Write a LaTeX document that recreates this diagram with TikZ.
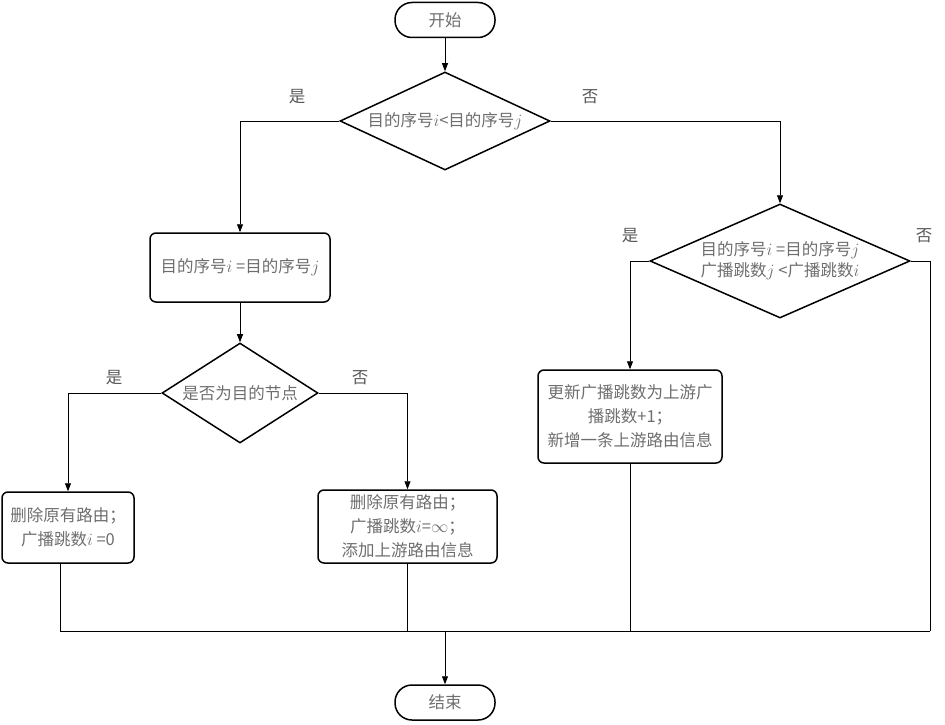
\documentclass[tikz,border=0pt]{standalone}
\usepackage{fontspec}
\setmainfont{Noto Sans CJK SC}
\usetikzlibrary{arrows.meta,shapes.geometric,calc}
\definecolor{txtgray}{RGB}{110,110,110}

\begin{document}
\begin{tikzpicture}[
    x=1pt, y=-1pt,
    font=\fontsize{16.5}{24}\selectfont,
    term/.style={rectangle, draw, line width=1.5pt, rounded corners=17pt, minimum width=100pt, minimum height=35pt, text=txtgray},
    dec/.style={diamond, draw, line width=1.5pt, inner sep=0pt, align=center, text=txtgray},
    box/.style={rectangle, draw, line width=1.5pt, rounded corners=6pt, align=center, text=txtgray},
    arr/.style={-{Triangle[length=8pt,width=6pt]}, line width=0.9pt},
    ln/.style={line width=0.9pt},
    lbl/.style={text=txtgray!80!black}
]
    \useasboundingbox (0,0) rectangle (945,725);

    \node[term] (start) at (445,20) {开始};
    \node[dec, aspect=2.14, minimum width=210pt, minimum height=98pt] (d1) at (445,121) {目的序号$i$<目的序号$j$};
    \node[box, minimum width=180pt, minimum height=69pt] (b1) at (240,267.5) {目的序号$i$ =目的序号$j$};
    \node[dec, aspect=1.56, minimum width=156pt, minimum height=100pt] (d2) at (240,393) {是否为目的节点};
    \node[box, minimum width=132pt, minimum height=71pt] (b2) at (68,527.5) {删除原有路由；\\ 广播跳数$i$ =0};
    \node[box, minimum width=179pt, minimum height=73pt] (b3) at (407.5,526.5) {删除原有路由；\\广播跳数$i$=$\infty$；\\添加上游路由信息};
    \node[dec, aspect=2.3, minimum width=260pt, minimum height=114pt] (d3) at (780,261) {目的序号$i$ =目的序号$j$\\[-3pt]广播跳数$j$ <广播跳数$i$};
    \node[box, minimum width=184pt, minimum height=93pt] (b4) at (630,416.5) {更新广播跳数为上游广\\播跳数+1；\\新增一条上游路由信息};
    \node[term] (end) at (445,702.5) {结束};

    % labels
    \node[lbl] (y1) at (297,97) {是};
    \node[lbl] (n1) at (590,97) {否};
    \node[lbl] (y2) at (114,378) {是};
    \node[lbl] (n2) at (360,378) {否};
    \node[lbl] (y3) at (630,236) {是};
    \node[lbl] (n3) at (924,236) {否};

    % merge line
    \coordinate (ml) at (60,631);
    \coordinate (mr) at (930,631);
    \coordinate (mc) at (445,631);

    \draw[arr] (start) -- (d1);
    \draw[arr] (d1.west) -| (b1.north);
    \draw[arr] (d1.east) -| (d3.north);
    \draw[arr] (b1) -- (d2);
    \draw[arr] (d2.west) -| (b2.north);
    \draw[arr] (d2.east) -| (b3.north);
    \draw[arr] (d3.west) -| (b4.north);
    \draw[ln] (d3.east) -| (mr);
    \draw[ln] (b2.south -| ml) -- (ml) -- (mr);
    \draw[ln] (b3.south) -- (b3.south |- ml);
    \draw[ln] (b4.south) -- (b4.south |- ml);
    \draw[arr] (mc) -- (end);
\end{tikzpicture}
\end{document}
